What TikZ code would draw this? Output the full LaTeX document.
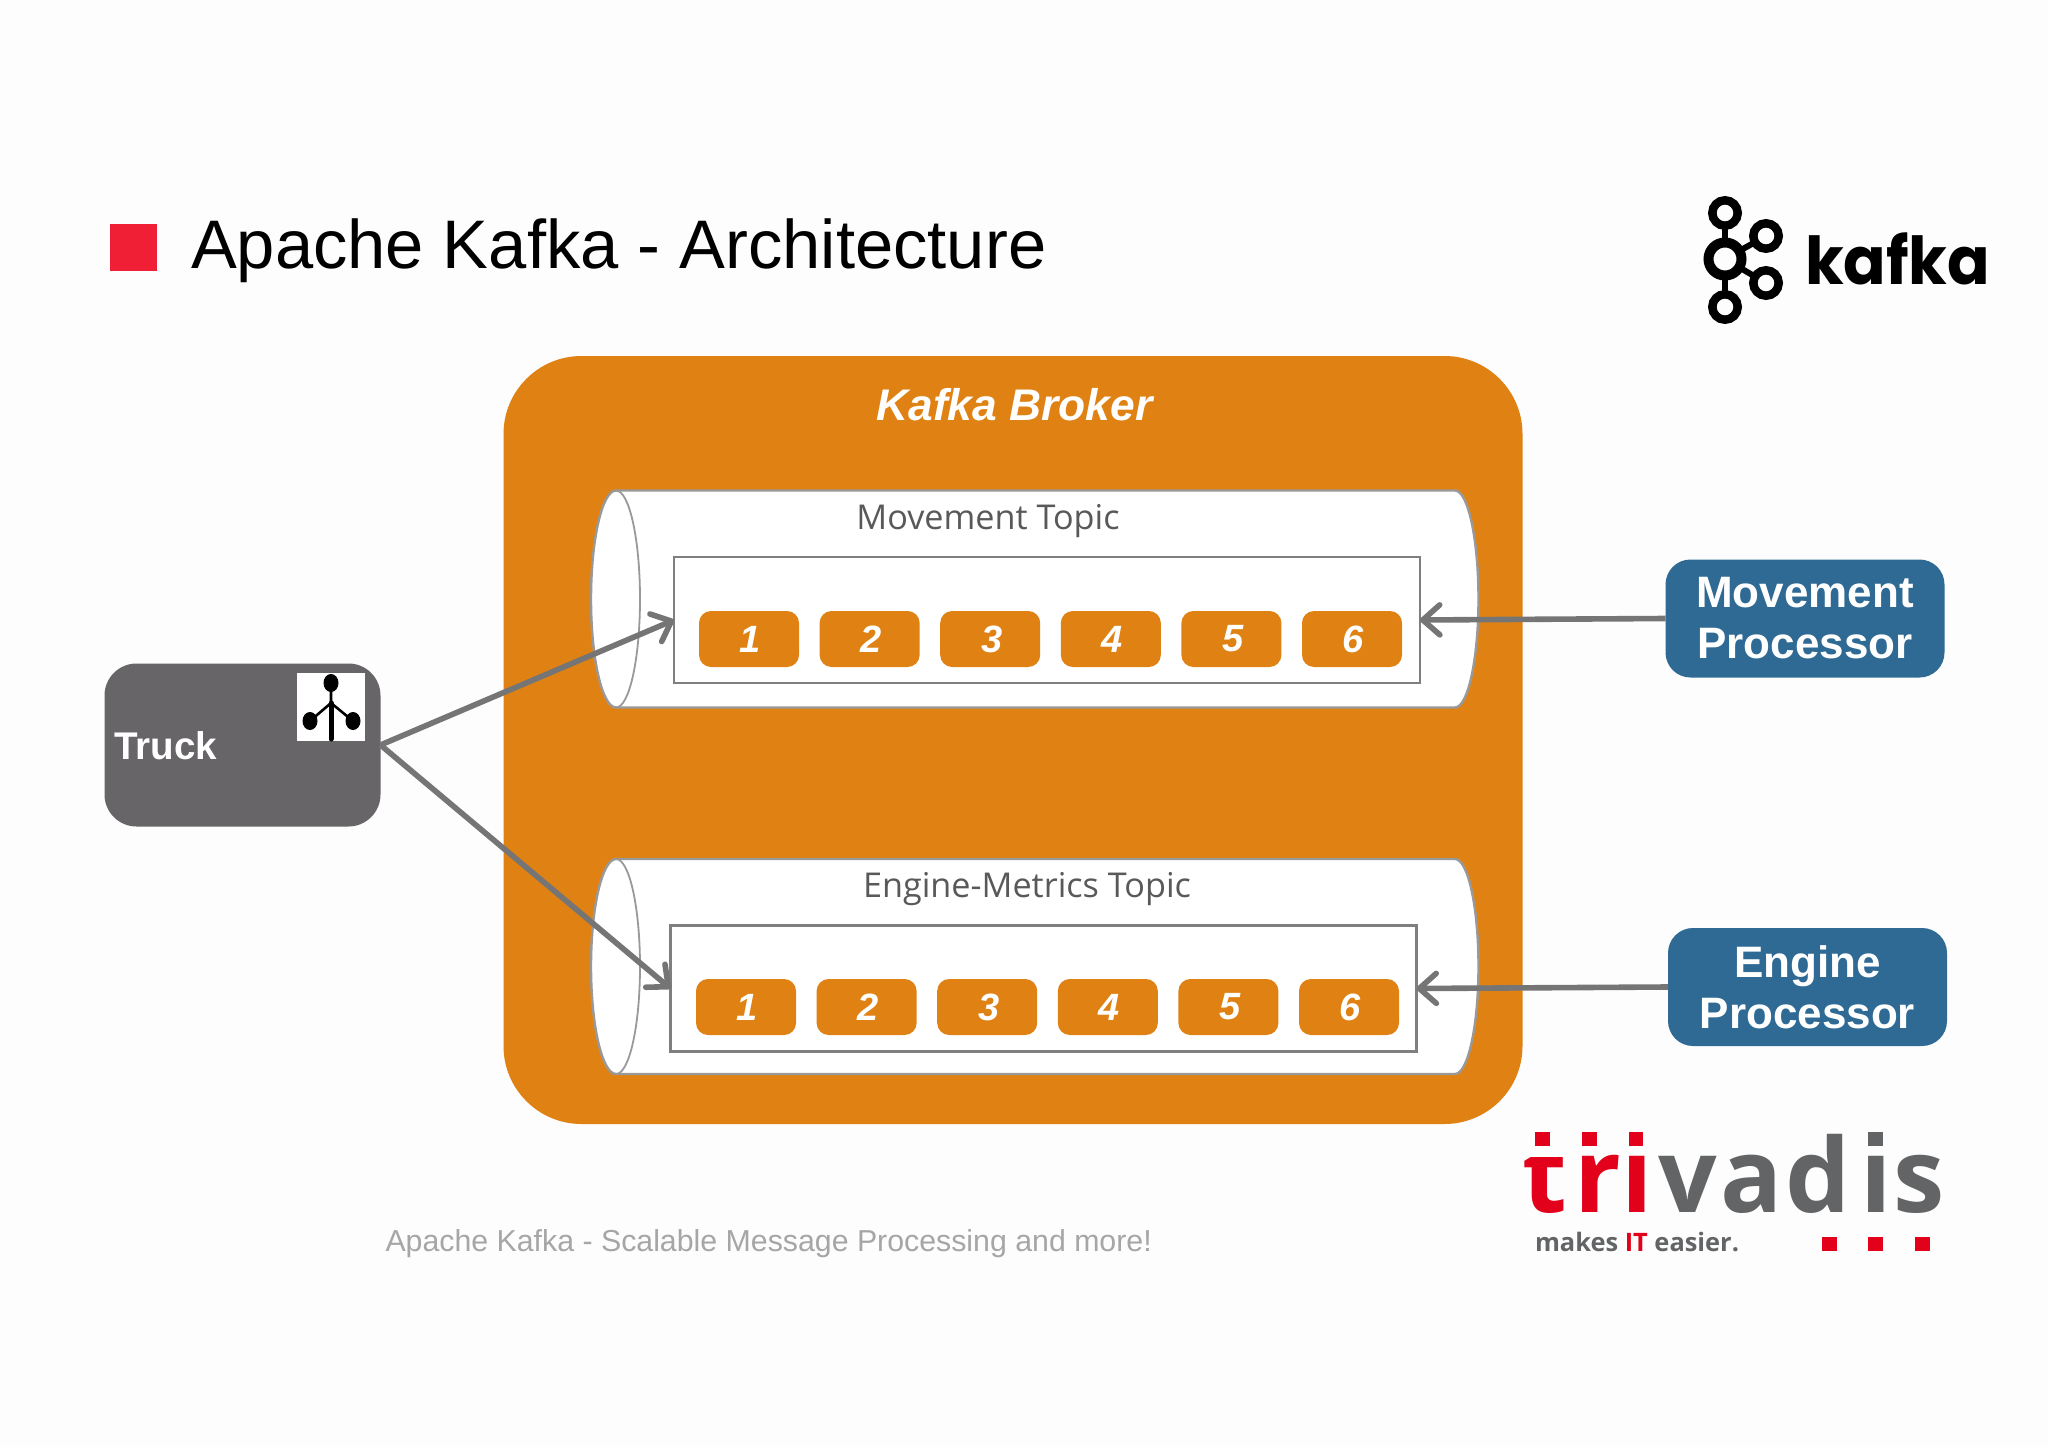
\documentclass[tikz,border=0pt]{standalone}
\usepackage{fontspec}
\usetikzlibrary{arrows.meta}
\setmainfont{Liberation Sans}
\newfontfamily\topicfont{Open Sans}
\newfontfamily\logofont[FakeStretch=0.95]{Poppins}
\newfontfamily\trivfont{Open Sans}
\newcommand{\fs}[1]{\fontsize{#1}{#1}\selectfont}
\definecolor{bgc}{HTML}{FDFDFD}
\definecolor{brokerc}{HTML}{E08213}
\definecolor{truckc}{HTML}{676567}
\definecolor{procc}{HTML}{2F6A94}
\definecolor{arrowc}{HTML}{767576}
\definecolor{linec}{HTML}{7F7F7F}
\definecolor{cylc}{HTML}{999999}
\definecolor{redc}{HTML}{F01F35}
\definecolor{trred}{HTML}{E2001A}
\definecolor{trgray}{HTML}{636466}
\definecolor{topicc}{HTML}{595959}
\definecolor{footc}{HTML}{A6A6A6}
\tikzset{
  rbox/.style={inner sep=0pt,outer sep=0pt,minimum width=#1},
  broker/.style={rbox=1019pt,minimum height=768pt,fill=brokerc,rounded corners=78pt},
  truckbox/.style={rbox=276pt,minimum height=163pt,fill=truckc,rounded corners=32pt},
  procbox/.style={rbox=279pt,minimum height=118pt,fill=procc,rounded corners=25pt,text=white,font=\fs{44}\bfseries,align=center},
  partbox/.style={rbox=746pt,minimum height=126pt,draw=linec,line width=2.2pt,fill=white},
  chip/.style={rbox=100pt,minimum height=56pt,fill=brokerc,rounded corners=12pt,text=white,font=\fs{38}\bfseries\itshape},
  cyl/.style={draw=cylc,line width=2.4pt,fill=white},
  flow/.style={draw=arrowc,line width=5.6pt,-{Straight Barb[length=17pt,width=30pt,line width=5.6pt,round]}},
  txt/.style={inner sep=0pt,outer sep=0pt},
  trletter/.style={txt,anchor=base west,font=\trivfont\fs{103}\bfseries},
  sq/.style={fill=trred}
}
\begin{document}
\begin{tikzpicture}[x=1pt,y=-1pt]
\useasboundingbox (0,0) rectangle (2048,1447);
\fill[bgc] (0,0) rectangle (2048,1447);
% title
\fill[redc] (109.5,224) rectangle (156.5,271);
\node[txt,anchor=base west,font=\fs{68.7}] (title) at (191,268.5) {Apache Kafka - Architecture};
% kafka logo
\draw[line width=6pt] (1725,213) -- (1725,307);
\draw[line width=6pt] (1725,259) -- (1766,236);
\draw[line width=6pt] (1725,259) -- (1766,283);
\draw[fill=bgc,line width=10pt] (1725,259) circle (16.5pt);
\draw[fill=bgc,line width=8.5pt] (1725,213) circle (12.7pt);
\draw[fill=bgc,line width=8.5pt] (1725,307) circle (12.7pt);
\draw[fill=bgc,line width=8.5pt] (1766,236) circle (12.7pt);
\draw[fill=bgc,line width=8.5pt] (1766,283) circle (12.7pt);
\node[txt,anchor=base west,font=\logofont\fs{66}\bfseries] (kafkaword) at (1805,284.5) {kafka};
% broker
\node[broker] (broker) at (1013,740) {};
\node[txt,font=\fs{44.3}\bfseries\itshape,text=white] (brokerlabel) at (1014.5,405) {Kafka Broker};
% cylinders
\draw[cyl] (616,490.5) -- (1455,490.5) arc[start angle=90,end angle=-90,x radius=23.5pt,y radius=108.5pt] -- (616,707.5) arc[start angle=270,end angle=90,x radius=25pt,y radius=108.5pt] -- cycle;
\draw[line width=1.8pt,draw=cylc] (616,490.5) arc[start angle=90,end angle=-90,x radius=24pt,y radius=108.5pt];
\draw[cyl] (616,859) -- (1455,859) arc[start angle=90,end angle=-90,x radius=23.5pt,y radius=107.5pt] -- (616,1074) arc[start angle=270,end angle=90,x radius=25pt,y radius=107.5pt] -- cycle;
\draw[line width=1.8pt,draw=cylc] (616,859) arc[start angle=90,end angle=-90,x radius=24pt,y radius=107.5pt];
\node[txt,font=\topicfont\fs{34.2},text=topicc] (topic1) at (988,521.5) {Movement Topic};
\node[txt,font=\topicfont\fs{34.2},text=topicc] (topic2) at (1027,889.5) {Engine-Metrics Topic};
% partitions
\node[partbox] (box1) at (1047,620) {};
\node[partbox] (box2) at (1043.5,988.5) {};
\foreach \i in {1,...,6} {
  \node[chip] (a\i) at ({749+120.6*(\i-1)},639) {\hspace*{3pt}\i};
  \node[chip] (b\i) at ({746+120.6*(\i-1)},1007) {\hspace*{3pt}\i};
}
% truck
\node[truckbox] (truck) at (242.5,745) {};
\node[txt,anchor=base west,font=\fs{38.6}\bfseries,text=white] (trucklabel) at (114,759) {Truck};
\fill[white] (297,673) rectangle (364.5,741);
\draw[black,line width=2.6pt] (331,683) -- (331,706) (310,721) -- (331,703) -- (353,721);
\draw[black,line width=5pt,line cap=round] (331,703) -- (331,739);
\fill[black] (331,683) ellipse (7.5pt and 9pt);
\fill[black] (310,721) ellipse (7.5pt and 9pt);
\fill[black] (353,721) ellipse (7.5pt and 9pt);
% processors
\node[procbox] (proc1) at (1805,618.5) {Movement\\[7pt]Processor};
\node[procbox] (proc2) at (1807.5,987) {Engine\\[7pt]Processor};
% connectors
\draw[flow] (truck.east) -- (box1.west);
\draw[flow] (truck.east) -- (box2.west);
\draw[flow] (proc1.west) -- (box1.east);
\draw[flow] (proc2.west) -- (box2.east);
% footer
\node[txt,anchor=base west,font=\fs{30.3},text=footc] (footer) at (385.5,1251) {Apache Kafka - Scalable Message Processing and more!};
% trivadis logo
\fill[sq] (1535,1132) rectangle (1550,1146);
\fill[sq] (1582,1132) rectangle (1597,1146);
\fill[sq] (1629,1132) rectangle (1643,1146);
\fill[trgray] (1868,1132) rectangle (1883,1146);
\begin{scope}
\clip (1515,1157) rectangle (1575,1225);
\node[trletter,text=trred] (tt) at (1522,1212) {t};
\end{scope}
\node[trletter,text=trred] (tr) at (1574,1212) {r};
\node[trletter,text=trred] (ti) at (1621,1212) {ı};
\node[trletter,text=trgray] (tv) at (1658,1212) {v};
\node[trletter,text=trgray] (ta) at (1720,1212) {a};
\node[trletter,text=trgray] (td) at (1785,1212) {d};
\node[trletter,text=trgray] (ti2) at (1860,1212) {ı};
\node[trletter,text=trgray] (ts) at (1893.5,1212) {s};
\node[txt,anchor=base west,font=\trivfont\fs{25.4}\bfseries,text=trgray] (slogan) at (1535,1251) {makes \textcolor{trred}{IT} easier.};
\fill[sq] (1822,1237) rectangle (1837,1251);
\fill[sq] (1868,1237) rectangle (1883,1251);
\fill[sq] (1915,1237) rectangle (1930,1251);
\end{tikzpicture}
\end{document}
